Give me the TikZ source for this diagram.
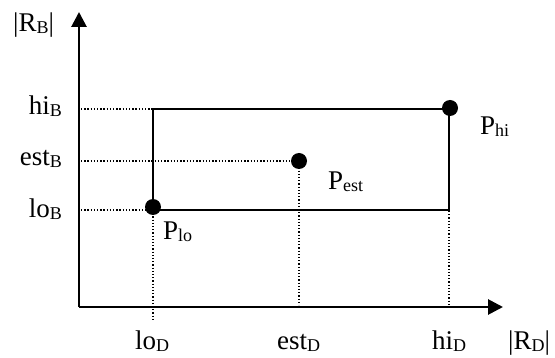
\documentclass[tikz,border=0pt]{standalone}
\usepackage{fontspec}
\setmainfont{Liberation Serif}
\usetikzlibrary{arrows.meta, positioning}
\newcommand{\lowsub}[1]{\raisebox{-0.07em}{\fontsize{18}{18}\selectfont #1}}

\begin{document}
\begin{tikzpicture}[
  x=1pt, y=-1pt,
  axis/.style={-{Triangle[length=15pt, width=15pt]}, line width=2.8pt},
  box/.style={line width=2.8pt},
  guide/.style={line width=1.3pt, dash pattern=on 1.3pt off 1.9pt},
  dot/.style={circle, fill=black, inner sep=0pt, minimum size=16pt},
  lbl/.style={font=\fontsize{27}{30}\selectfont, inner sep=0pt},
]
\useasboundingbox (0,0) rectangle (555,358);

% axes
\coordinate (origin) at (79,307);
\coordinate (ytip) at (79,12);
\coordinate (xtip) at (503,307);
\draw[axis] (origin) -- (ytip);
\draw[axis] (origin) -- (xtip);

% range box
\coordinate (lolo) at (153,210);
\coordinate (hihi) at (449,109);
\draw[box] (lolo) rectangle (hihi);

% points
\node[dot] (plo) at (153,207) {};
\node[dot] (phi) at (450,108) {};
\node[dot] (pest) at (299,161) {};

% guide lines
\coordinate (hiB) at (81,109);
\coordinate (estB) at (81,161);
\coordinate (loB) at (81,210);
\coordinate (loD) at (153,319);
\coordinate (estD) at (299,305);
\coordinate (hiD) at (449,305);
\coordinate (hiDtop) at (449,211);
\draw[guide] (hiB) -- (152,109);
\draw[guide] (estB) -- (pest.center);
\draw[guide] (loB) -- (lolo);
\draw[guide] (lolo) -- (loD);
\draw[guide] (pest.center) -- (estD);
\draw[guide] (hiDtop) -- (hiD);

% axis labels
\node[lbl, anchor=base west] (rb) at (13,32) {|R\lowsub{B}|};
\node[lbl, anchor=base west] (rd) at (508,350) {|R\lowsub{D}|};
\node[lbl, anchor=base east] (lhib) at (62,115) {hi\lowsub{B}};
\node[lbl, anchor=base east] (lestb) at (62,166) {est\lowsub{B}};
\node[lbl, anchor=base east] (llob) at (62,218) {lo\lowsub{B}};
\node[lbl, anchor=base west] (llod) at (135,350) {lo\lowsub{D}};
\node[lbl, anchor=base west] (lestd) at (277,350) {est\lowsub{D}};
\node[lbl, anchor=base west] (lhid) at (432,350) {hi\lowsub{D}};

% point labels
\node[lbl, anchor=base west] (lplo) at (163,240) {P\lowsub{lo}};
\node[lbl, anchor=base west] (lpest) at (328,190) {P\lowsub{est}};
\node[lbl, anchor=base west] (lphi) at (480,135) {P\lowsub{hi}};

\end{tikzpicture}
\end{document}
